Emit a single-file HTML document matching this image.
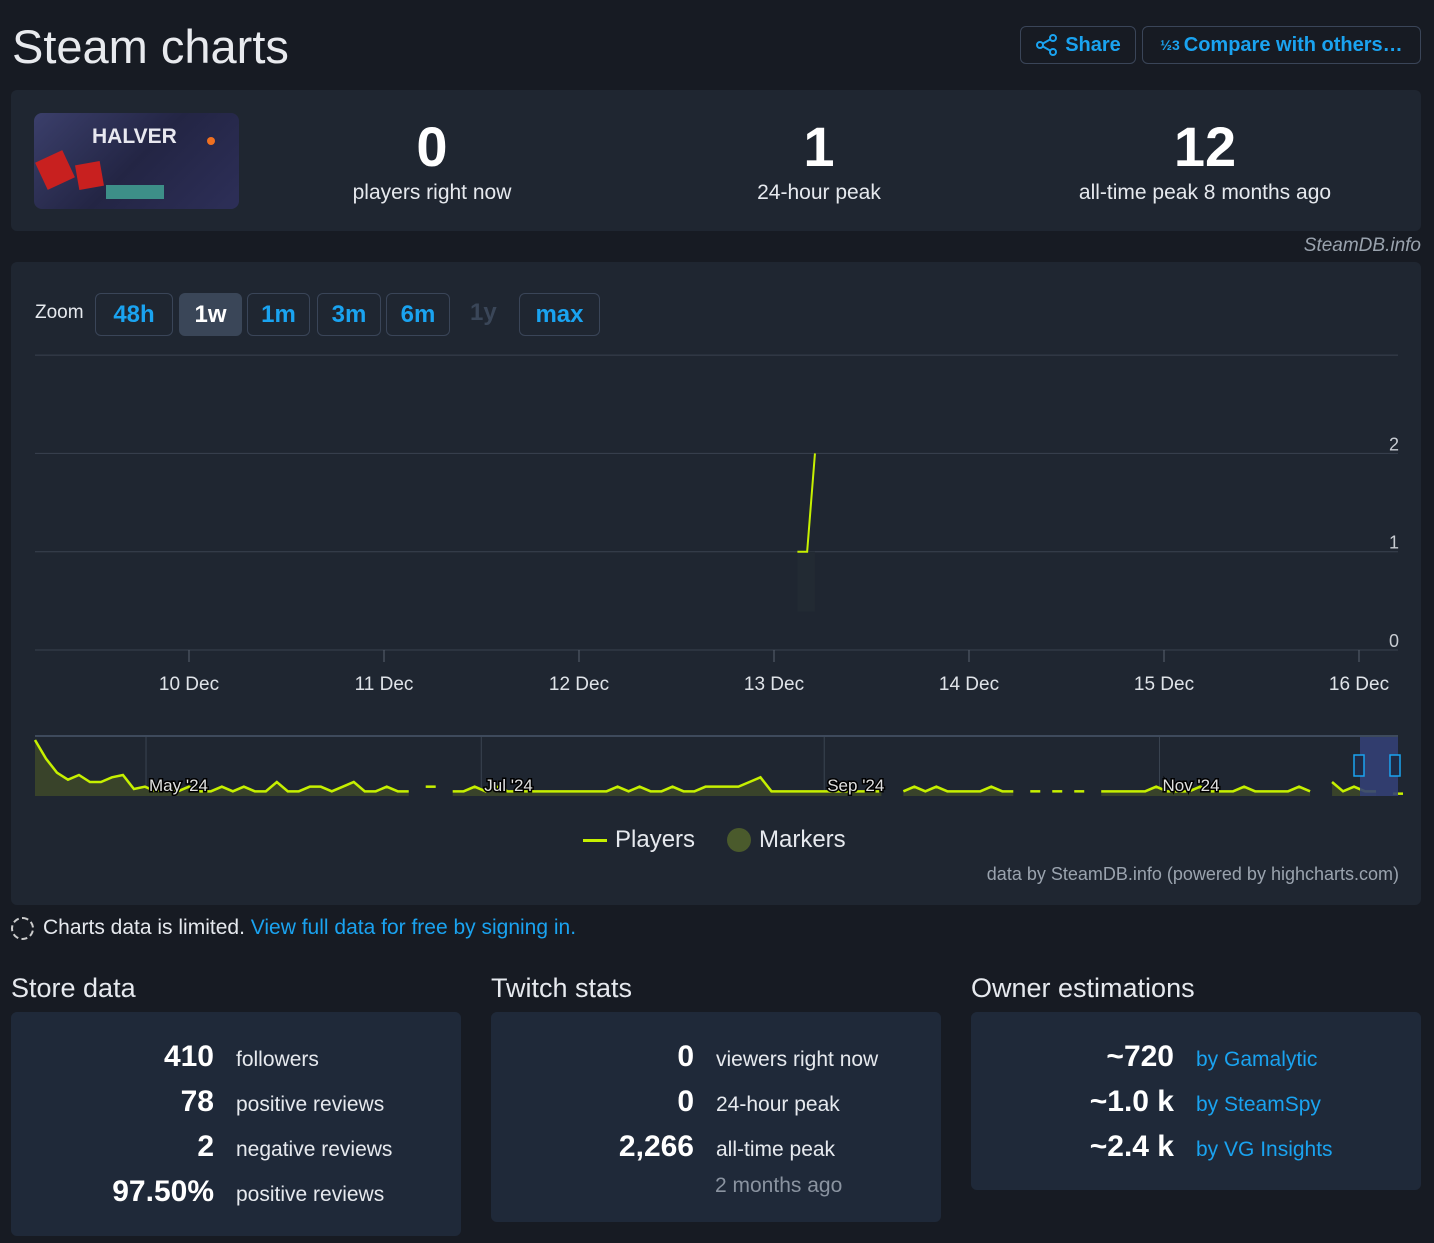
<!DOCTYPE html>
<html><head><meta charset="utf-8"><style>
*{box-sizing:border-box;margin:0;padding:0}
body{width:1434px;height:1243px;background:#171b23;font-family:"Liberation Sans",sans-serif;color:#e6e9ee;position:relative;overflow:hidden}
.abs{position:absolute}
.card{position:absolute;background:#1f2631;border-radius:6px}
.btn{position:absolute;border:1px solid #3a4558;border-radius:6px;color:#1aa3f0;font-weight:bold;display:flex;align-items:center;justify-content:center}
.big{font-weight:bold;color:#fff;text-align:center}
.lbl{font-size:21px;color:#e6e9ee;text-align:center}
.bc{position:absolute;background:#1f2939;border-radius:6px}
.row{position:absolute;font-size:21px;white-space:nowrap}
.row b{display:inline-block;text-align:right;font-size:30px;color:#fff}
.blue{color:#1aa3f0}
</style></head><body>
<div class="abs" style="left:12px;top:19px;font-size:47px;color:#e8eaee">Steam charts</div>
<div class="btn" style="left:1020px;top:26px;width:116px;height:38px;font-size:20px">
<svg width="24" height="24" viewBox="0 0 24 24" style="margin-right:6px"><g fill="none" stroke="#1aa3f0" stroke-width="2"><circle cx="5" cy="12" r="3"/><circle cx="18" cy="5" r="3"/><circle cx="18" cy="19" r="3"/><path d="M8 10.5L15 6.5M8 13.5L15 17.5"/></g></svg>Share</div>
<div class="btn" style="left:1142px;top:26px;width:279px;height:38px;font-size:20px"><span style="font-size:14px;margin-right:4px">½3</span>Compare with others…</div>

<div class="card" style="left:11px;top:90px;width:1410px;height:141px">
 <div class="abs" style="left:23px;top:23px;width:205px;height:96px;border-radius:8px;background:linear-gradient(135deg,#3b3f6b,#232544 50%,#2d2f58);overflow:hidden">
  <div class="abs" style="left:58px;top:12px;font-size:21px;font-weight:bold;color:#e8e8f0">HALVER</div>
  <div class="abs" style="left:6px;top:42px;width:30px;height:30px;background:#c8201f;transform:rotate(-25deg)"></div>
  <div class="abs" style="left:43px;top:50px;width:25px;height:25px;background:#c8201f;transform:rotate(-10deg)"></div>
  <div class="abs" style="left:72px;top:72px;width:58px;height:14px;background:#3d8f88"></div>
  <div class="abs" style="left:173px;top:24px;width:8px;height:8px;border-radius:50%;background:#f07020"></div>
 </div>
 <div class="abs big" style="left:321px;top:24px;width:200px;font-size:56px">0</div>
 <div class="abs lbl" style="left:271px;top:91px;width:300px">players right now</div>
 <div class="abs big" style="left:708px;top:24px;width:200px;font-size:56px">1</div>
 <div class="abs lbl" style="left:658px;top:91px;width:300px">24-hour peak</div>
 <div class="abs big" style="left:1094px;top:24px;width:200px;font-size:56px">12</div>
 <div class="abs lbl" style="left:1014px;top:91px;width:360px">all-time peak 8 months ago</div>
</div>
<div class="abs" style="right:13px;top:235px;font-size:19px;font-style:italic;color:#9aa3ae">SteamDB.info</div>

<div class="card" style="left:11px;top:262px;width:1410px;height:643px"></div>
<div class="abs" style="left:35px;top:302px;font-size:19px;color:#e6e9ee">Zoom</div>
<div class="btn" style="left:95px;top:293px;width:78px;height:43px;font-size:24px">48h</div>
<div class="btn" style="left:179px;top:293px;width:63px;height:43px;font-size:24px;background:#3a4658;color:#fff;border-color:#3a4658">1w</div>
<div class="btn" style="left:247px;top:293px;width:63px;height:43px;font-size:24px">1m</div>
<div class="btn" style="left:317px;top:293px;width:64px;height:43px;font-size:24px">3m</div>
<div class="btn" style="left:386px;top:293px;width:64px;height:43px;font-size:24px">6m</div>
<div class="abs" style="left:470px;top:299px;font-size:24px;font-weight:bold;color:#3a4658">1y</div>
<div class="btn" style="left:519px;top:293px;width:81px;height:43px;font-size:24px">max</div>

<svg id="chart" class="abs" style="left:0;top:0" width="1434" height="910"></svg>

<div class="abs" style="left:583px;top:826px;font-size:24px;display:flex;align-items:center"><span style="display:inline-block;width:24px;height:3px;background:#c6f000;margin-right:8px"></span>Players</div>
<div class="abs" style="left:727px;top:826px;font-size:24px;display:flex;align-items:center"><span style="display:inline-block;width:24px;height:24px;border-radius:50%;background:#4a5a2c;margin-right:8px"></span>Markers</div>
<div class="abs" style="right:35px;top:864px;font-size:18px;color:#9aa3ae">data by SteamDB.info (powered by highcharts.com)</div>

<div class="abs" style="left:11px;top:916px;font-size:21px;display:flex;align-items:center"><span style="display:inline-block;width:23px;height:23px;border:2px dashed #ccc;border-radius:50%;margin-right:9px"></span>Charts data is limited.&nbsp;<span class="blue">View full data for free by signing in.</span></div>

<div class="abs" style="left:11px;top:973px;font-size:27px">Store data</div>
<div class="abs" style="left:491px;top:973px;font-size:27px">Twitch stats</div>
<div class="abs" style="left:971px;top:973px;font-size:27px">Owner estimations</div>

<div class="bc" style="left:11px;top:1012px;width:450px;height:224px">
 <div class="row" style="left:0;top:28px"><b style="width:203px">410</b><span style="margin-left:22px">followers</span></div>
 <div class="row" style="left:0;top:73px"><b style="width:203px">78</b><span style="margin-left:22px">positive reviews</span></div>
 <div class="row" style="left:0;top:118px"><b style="width:203px">2</b><span style="margin-left:22px">negative reviews</span></div>
 <div class="row" style="left:0;top:163px"><b style="width:203px">97.50%</b><span style="margin-left:22px">positive reviews</span></div>
</div>
<div class="bc" style="left:491px;top:1012px;width:450px;height:210px">
 <div class="row" style="left:0;top:28px"><b style="width:203px">0</b><span style="margin-left:22px">viewers right now</span></div>
 <div class="row" style="left:0;top:73px"><b style="width:203px">0</b><span style="margin-left:22px">24-hour peak</span></div>
 <div class="row" style="left:0;top:118px"><b style="width:203px">2,266</b><span style="margin-left:22px">all-time peak</span></div>
 <div class="row" style="left:224px;top:162px;color:#8a93a0">2 months ago</div>
</div>
<div class="bc" style="left:971px;top:1012px;width:450px;height:178px">
 <div class="row" style="left:0;top:28px"><b style="width:203px">~720</b><span class="blue" style="margin-left:22px">by Gamalytic</span></div>
 <div class="row" style="left:0;top:73px"><b style="width:203px">~1.0 k</b><span class="blue" style="margin-left:22px">by SteamSpy</span></div>
 <div class="row" style="left:0;top:118px"><b style="width:203px">~2.4 k</b><span class="blue" style="margin-left:22px">by VG Insights</span></div>
</div>

<script>
// main chart data (days since 10 Dec 00:00)
const mainTimes=[3.12,3.17,3.21];
const mainValues=[1,1,2];
const xTickLabels=["10 Dec","11 Dec","12 Dec","13 Dec","14 Dec","15 Dec","16 Dec"];
const yTickLabels=[0,1,2];
// navigator data (every ~2 days from 11 Apr)
const navValues=[12,8,5,3.5,4.5,3,3,4,4.5,1.5,2,1,2,1,2,1,1,2,1,2,1,1,3,1,1,2,2,1,2,3,1,1,2,1,1,null,2,null,1,1,2,1,2,1,1,1,1,1,1,1,1,1,1,2,1,2,1,1,2,1,1,2,2,2,2,3,4,1,1,1,1,1,1,1,1,1,1,1,null,1,2,1,2,1,1,1,1,2,1,1,null,1,null,1,null,1,null,1,1,1,1,1,2,1,1,1,2,1,1,1,2,1,1,1,1,2,1,null,3,1,2,1,1,null,0.5];
const navMonths=["May '24","Jul '24","Sep '24","Nov '24"];
const navMonthIdx=[10.1,40.6,71.8,102.3];

const NS="http://www.w3.org/2000/svg";
const svg=document.getElementById('chart');
function mk(t,a,p){const e=document.createElementNS(NS,t);for(const k in a)e.setAttribute(k,a[k]);(p||svg).appendChild(e);return e;}
const X0=35,X1=1398;
const xMain=d=>189+d*195;
const yMain=v=>650-v*98.3;
[0,1,2,3].forEach(v=>{
 const l=mk('line',{x1:X0,x2:X1,y1:yMain(v),y2:yMain(v),stroke:'#3a4250','stroke-width':1});
 
 
});
yTickLabels.forEach(v=>{
 const t=mk('text',{x:1399,y:yMain(v)-3,'text-anchor':'end','font-size':18,fill:'#c8ccd2','font-family':'Liberation Sans'});
 t.textContent=v;
 
 
});
xTickLabels.forEach((s,i)=>{
 const x=xMain(i);
 const tk=mk('line',{x1:x,x2:x,y1:650,y2:662,stroke:'#5a6270'});
 
 
 const t=mk('text',{x:x,y:690,'text-anchor':'middle','font-size':19,fill:'#dfe3e8','font-family':'Liberation Sans'});
 t.textContent=s;
 
 
});
const shade=mk('rect',{x:xMain(mainTimes[0]),y:yMain(mainValues[0]),width:xMain(mainTimes[2])-xMain(mainTimes[0]),height:60,fill:'#222a33'});


const pl=mk('polyline',{points:mainTimes.map((t,i)=>xMain(t)+','+yMain(mainValues[i])).join(' '),fill:'none',stroke:'#c6f000','stroke-width':2});



// navigator
const NY0=796,NY1=740;
const xNav=i=>X0+i*(X1-X0)/(navValues.length-1);
const yNav=v=>NY0-v*(NY0-NY1)/12;
const nb=mk('rect',{x:X0,y:737,width:X1-X0,height:59,fill:'#1f2631',stroke:'none'});


mk('line',{x1:X0,x2:X1,y1:736,y2:736,stroke:'#3e4a5c','stroke-width':2});
navMonthIdx.forEach((idx,k)=>{
 const x=xNav(idx);
 const l=mk('line',{x1:x,x2:x,y1:737,y2:796,stroke:'#3a4452'});
 
 
});
let seg=[];const segs=[];
navValues.forEach((v,i)=>{if(v===null){if(seg.length)segs.push(seg);seg=[];}else seg.push([xNav(i),yNav(v)]);});
if(seg.length)segs.push(seg);
segs.forEach(s=>{
 if(s.length>1){
  const a=mk('polygon',{points:s.map(p=>p.join(',')).join(' ')+' '+s[s.length-1][0]+','+NY0+' '+s[0][0]+','+NY0,fill:'#39432a'});
  
  
 }
 const pts=s.length>1?s:[[s[0][0]-5,s[0][1]],[s[0][0]+5,s[0][1]]];
 const p=mk('polyline',{points:pts.map(p=>p.join(',')).join(' '),fill:'none',stroke:'#c6f000','stroke-width':2.5});
 
 
});
navMonthIdx.forEach((idx,k)=>{
 const t=mk('text',{x:xNav(idx)+3,y:791,'font-size':17,fill:'#e0e0e0',stroke:'#000','stroke-width':3,'paint-order':'stroke','font-family':'Liberation Sans'});
 t.textContent=navMonths[k];
 
 
});
const sel=mk('rect',{x:1360,y:737,width:38,height:59,fill:'#334075','fill-opacity':0.9});


[1360,1396].forEach(x=>{
 const h=mk('rect',{x:x-6,y:755,width:10,height:21,fill:'#1f2a45',stroke:'#1aa3f0','stroke-width':1.5});
 
 
});
</script>
</body></html>
